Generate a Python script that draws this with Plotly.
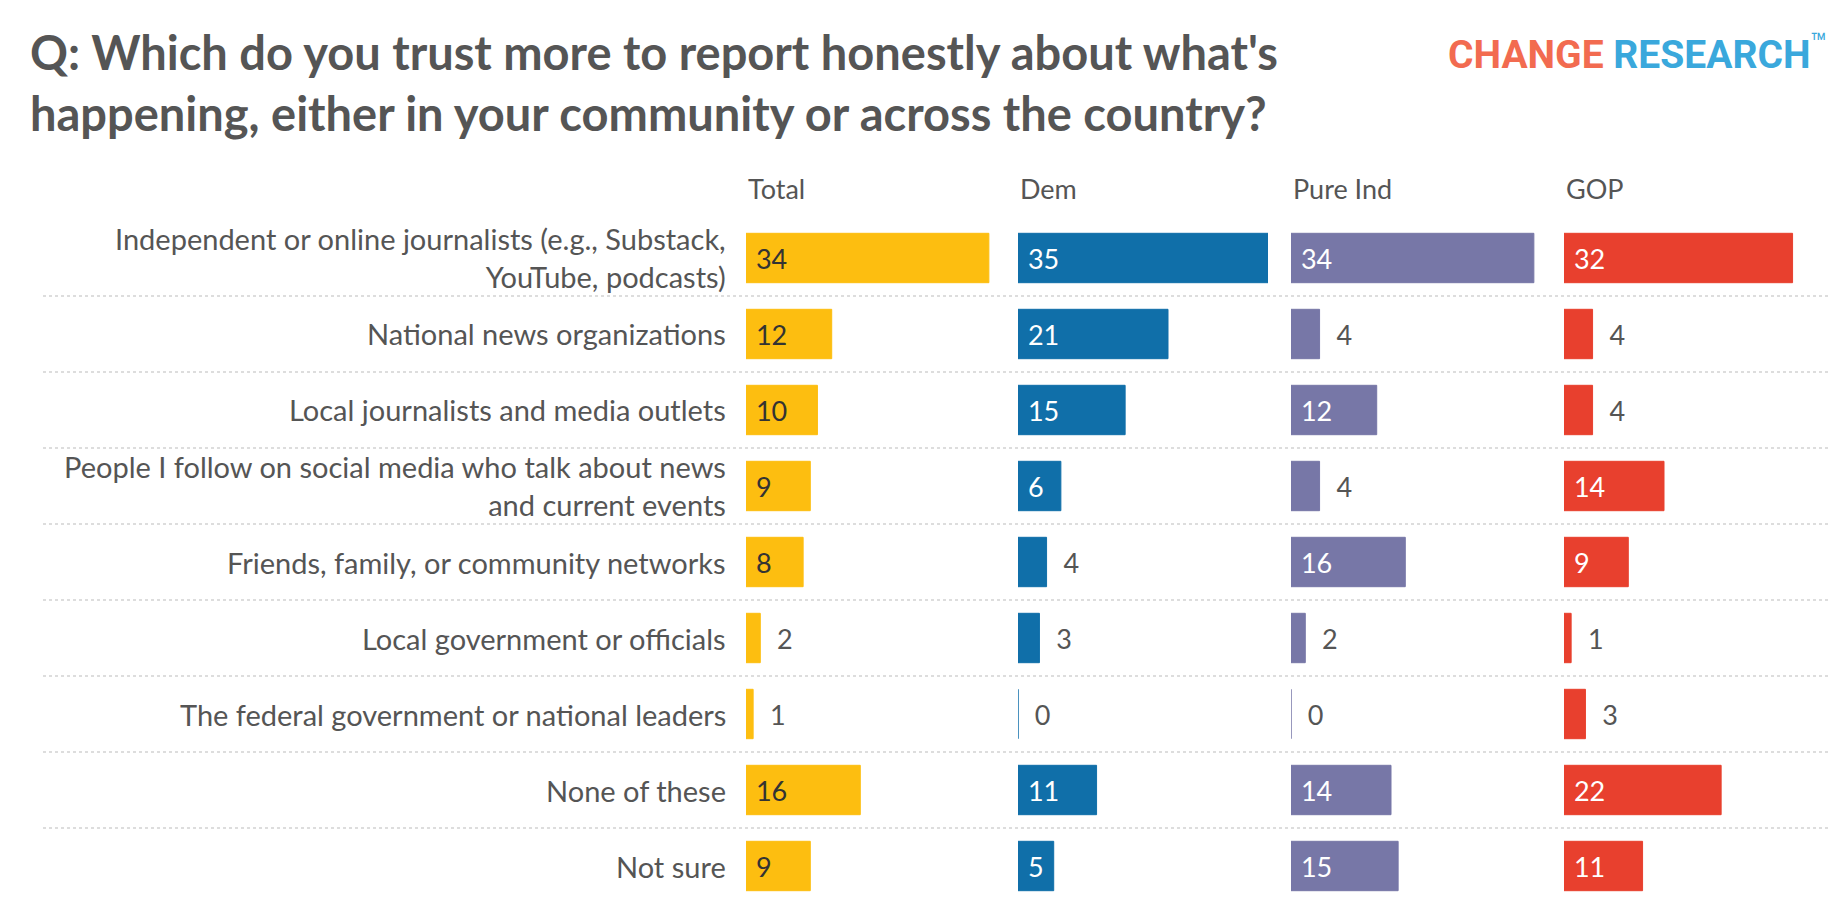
import plotly.graph_objects as go

categories = [
    "Independent or online journalists (e.g., Substack,<br>YouTube, podcasts)",
    "National news organizations",
    "Local journalists and media outlets",
    "People I follow on social media who talk about news<br>and current events",
    "Friends, family, or community networks",
    "Local government or officials",
    "The federal government or national leaders",
    "None of these",
    "Not sure",
]
groups = ["Total", "Dem", "Pure Ind", "GOP"]
total = [34, 12, 10, 9, 8, 2, 1, 16, 9]
dem = [35, 21, 15, 6, 4, 3, 0, 11, 5]
pure_ind = [34, 4, 12, 4, 16, 2, 0, 14, 15]
gop = [32, 4, 4, 14, 9, 1, 3, 22, 11]

series = [total, dem, pure_ind, gop]
colors = ["#FDBE10", "#106FA9", "#7777A7", "#E8402E"]
inside_text = ["#333333", "#FFFFFF", "#FFFFFF", "#FFFFFF"]
W = 1840
H = 912
starts = [738, 1010, 1283, 1556]
panel_w = 250
FONT = "Lato"

fig = go.Figure()
ids = list(range(len(categories)))
for k, (vals, col) in enumerate(zip(series, colors)):
    xa = "x" if k == 0 else "x%d" % (k + 1)
    fig.add_trace(go.Bar(
        x=vals, y=ids, orientation="h", xaxis=xa, yaxis="y",
        marker=dict(color=col, line=dict(color=col, width=1)),
        text=[" " + str(v) if v >= 5 else "  " + str(v) for v in vals],
        textposition=["inside" if v >= 5 else "outside" for v in vals],
        insidetextanchor="start",
        insidetextfont=dict(color=inside_text[k], size=27, family=FONT),
        outsidetextfont=dict(color="#555555", size=27, family=FONT),
        textangle=0, cliponaxis=False, showlegend=False, hoverinfo="skip",
    ))
    key = "xaxis" if k == 0 else "xaxis%d" % (k + 1)
    fig.layout[key] = dict(domain=[starts[k] / W, (starts[k] + panel_w) / W],
                           range=[0, 35], visible=False, fixedrange=True,
                           anchor="y")
    fig.add_annotation(text=groups[k], xref="paper", yref="paper",
                       x=starts[k] / W, y=1 - 181 / H, xanchor="left", yanchor="middle",
                       showarrow=False, font=dict(size=27, color="#555555", family=FONT))

fig.update_layout(yaxis=dict(domain=[1 - 896 / H, 1 - 212 / H], range=[8.5, -0.5],
                             visible=False, fixedrange=True))

for i, c in enumerate(categories):
    fig.add_annotation(text=c, xref="paper", yref="y", x=720 / W, y=i,
                       xanchor="right", yanchor="middle", align="right", showarrow=False,
                       font=dict(size=29, color="#555555", family=FONT))
for i in range(len(categories) - 1):
    fig.add_shape(type="line", xref="paper", yref="y", x0=35 / W, x1=1820 / W,
                  y0=i + 0.5, y1=i + 0.5, line=dict(color="#BBBBBB", width=1, dash="dot"))

fig.add_annotation(
    text="<b>Q: Which do you trust more to report honestly about what's<br>"
         "happening, either in your community or across the country?</b>",
    xref="paper", yref="paper", x=20 / W, y=1 - 14 / H, xanchor="left", yanchor="top",
    align="left", showarrow=False, font=dict(size=47, color="#555555", family=FONT))
fig.add_annotation(
    text="<b><span style='color:#F26B50'>CHANGE</span> "
         "<span style='color:#3AA8DC'>RESEARCH</span></b><sup style='color:#3AA8DC'>™</sup>",
    xref="paper", yref="paper", x=1822 / W, y=1 - 45 / H, xanchor="right", yanchor="middle",
    showarrow=False, font=dict(size=39, family="Liberation Sans Narrow, Roboto"))

fig.update_layout(width=W, height=H, margin=dict(l=0, r=0, t=0, b=0),
                  plot_bgcolor="white", paper_bgcolor="white", bargap=0.35,
                  font=dict(family=FONT))
fig.write_html("out.html")
